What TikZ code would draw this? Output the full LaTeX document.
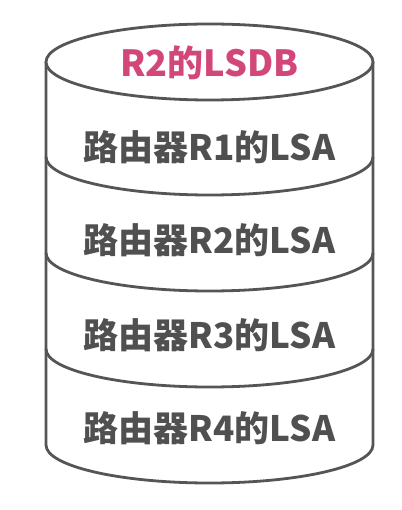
\documentclass[tikz,border=0pt]{standalone}
\usepackage{fontspec}
\newfontfamily\cjk{Noto Sans CJK SC}
\definecolor{randgrau}{HTML}{555555}
\definecolor{textgrau}{HTML}{505050}
\definecolor{titelrosa}{HTML}{D2467A}

\begin{document}
\begin{tikzpicture}[x=1pt, y=-1pt]
\tikzstyle{rand}=[draw=randgrau, line width=2.8pt, line join=round]
\tikzstyle{eintrag}=[font=\cjk\bfseries\fontsize{35}{35}\selectfont, text=textgrau, inner sep=0pt]
\tikzstyle{titel}=[eintrag, font=\cjk\bfseries\fontsize{36}{36}\selectfont, text=titelrosa]

\useasboundingbox (0,0) rectangle (401,510);

% Zylinder
\path[rand, fill=white] (46,62) -- (46,445)
  arc[start angle=180, end angle=0, x radius=163.5, y radius=38] -- (373,62);
\foreach \y in {157,253,349}
  \draw[rand] (46,\y) arc[start angle=180, end angle=0, x radius=163.5, y radius=38];
\draw[rand, fill=white] (209.5,62) ellipse[x radius=163.5, y radius=38];

\node[titel] (lsdb) at (209.5,63) {R2的LSDB};
\node[eintrag] (r1) at (209.5,147) {路由器R1的LSA};
\node[eintrag] (r2) at (209.5,240) {路由器R2的LSA};
\node[eintrag] (r3) at (209.5,335) {路由器R3的LSA};
\node[eintrag] (r4) at (209.5,428) {路由器R4的LSA};
\end{tikzpicture}
\end{document}
